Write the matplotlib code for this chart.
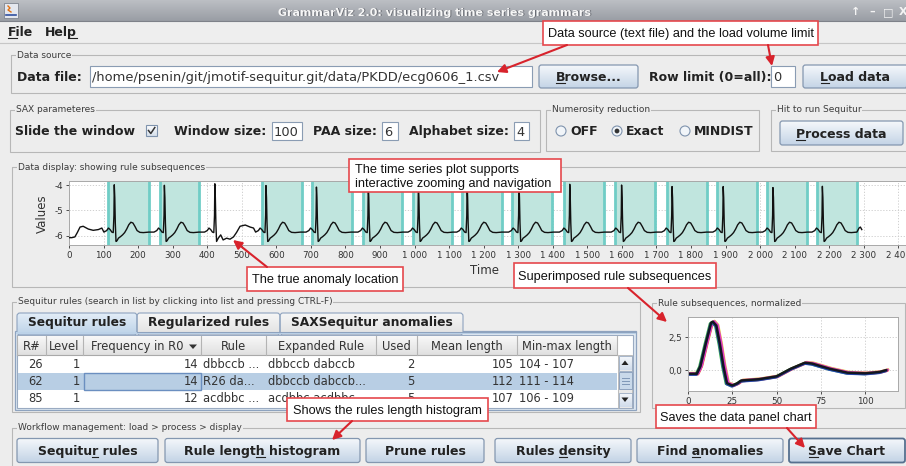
#!/usr/bin/env python3
"""
Redraws the GrammarViz 2.0 main window screenshot with matplotlib.
GUI widgets are drawn in pixel coordinates, the two charts are real axes.
"""

import numpy as np
import matplotlib
matplotlib.use('Agg')
import matplotlib.pyplot as plt
from matplotlib.patches import Rectangle, FancyBboxPatch, Circle, Polygon
from matplotlib.colors import LinearSegmentedColormap
from matplotlib.font_manager import FontProperties

plt.rcParams['axes.unicode_minus'] = False

W, H = 906, 466
BG = '#ededed'
RED = '#d8232c'

# ---- ECG series (ecg0606_1.csv) ----
lead_t = [0, 8, 17, 24, 32, 41, 56, 70, 85, 95]
lead_v = [-6.08, -6.08, -6.05, -5.88, -5.66, -5.63, -5.74, -5.79, -5.76, -5.70]
beat_peaks = [131, 276, 422, 570, 716, 866, 1011, 1152, 1302, 1449, 1599, 1745, 1893, 2037, 2180]
peak_values = [-3.99, -4.01, -3.95, -4.02, -4.08, -4.02, -3.98, -3.96, -3.95, -3.97,
               -4.00, -4.06, -4.06, -4.10, -4.05]
beat_offsets = [-30, -22, -17, -12, -7, -3, -1, 0, 1.5, 3, 5, 8, 12, 18, 24, 30, 36,
                42, 48, 54, 60, 66, 74, 84, 100]
beat_values = [-5.86, -5.80, -5.70, -5.76, -5.86, -5.88, -5.20, -4.00, -4.50, -5.50,
               -6.23, -6.20, -6.10, -6.04, -5.97, -5.88, -5.74, -5.57, -5.47, -5.50,
               -5.64, -5.80, -5.87, -5.88, -5.86]
anomaly_beat = 2
anomaly_offsets = [5, 10, 17, 24, 34, 44, 54, 63, 73, 88, 102, 112]
anomaly_values = [-6.23, -6.10, -5.97, -6.17, -6.10, -6.14, -6.05, -5.87, -5.63, -5.58, -5.66, -5.70]
tail_t = [2286, 2290, 2294]
tail_v = [-5.70, -5.66, -5.76]

# rule subsequences highlighted in the data display
rule_starts = [114, 263, 559, 704, 850, 994, 1136, 1282, 1433, 1579, 1729, 1876, 2020, 2165]
rule_ends = [231, 377, 673, 818, 964, 1109, 1253, 1399, 1548, 1695, 1846, 1991, 2136, 2280]

time_ticks = [0, 100, 200, 300, 400, 500, 600, 700, 800, 900, 1000, 1100, 1200,
              1300, 1400, 1500, 1600, 1700, 1800, 1900, 2000, 2100, 2200, 2300, 2400]
time_tick_labels = ['0', '100', '200', '300', '400', '500', '600', '700', '800', '900',
                    '1 000', '1 100', '1 200', '1 300', '1 400', '1 500', '1 600', '1 700',
                    '1 800', '1 900', '2 000', '2 100', '2 200', '2 300', '2 400']
value_ticks = [-6, -5, -4]
value_tick_labels = ['-6', '-5', '-4']

# superimposed normalized rule subsequences
norm_x = [0, 5, 7, 10, 13, 14, 16, 18, 20, 22, 25, 28, 30, 40, 50, 58, 66, 70, 80, 90, 100, 108, 112]
norm_v = [-0.28, -0.28, 0.3, 2.0, 3.6, 3.7, 3.4, 2.0, 0.3, -1.0, -1.18, -1.0, -0.8, -0.7,
          -0.48, 0.1, 0.56, 0.5, 0.1, -0.2, -0.25, -0.15, 0.0]
norm_shift = [1.0, 0.6, 0.8, -0.6, -0.2, 0.0]
norm_lift = [0.05, -0.04, 0.03, -0.05, -0.07, 0.0]
norm_colors = ['#e8d820', '#e02828', '#e03ad6', '#22a030', '#2040c0', '#111111']
norm_ticks_x = [0, 25, 50, 75, 100]
norm_ticks_y = [0.0, 2.5]
norm_tick_labels_y = ['0,0', '2,5']

# Sequitur rules table
table_columns = ['R#', 'Level', 'Frequency in R0', 'Rule', 'Expanded Rule', 'Used',
                 'Mean length', 'Min-max length']
col_rnum = ['26', '62', '85']
col_level = ['1', '1', '1']
col_freq = ['14', '14', '12']
col_rule = ['dbbccb ...', 'R26 da...', 'acdbbc ...']
col_expanded = ['dbbccb dabccb', 'dbbccb dabccb...', 'acdbbc acdbbc...']
col_used = ['2', '5', '5']
col_mean = ['105', '112', '107']
col_minmax = ['104 - 107', '111 - 114', '106 - 109']
selected_row = 1

tab_labels = ['Sequitur rules', 'Regularized rules', 'SAXSequitur anomalies']
radio_labels = ['OFF', 'Exact', 'MINDIST']
radio_selected = 1
workflow_buttons = ['Sequitur rules', 'Rule length histogram', 'Prune rules',
                    'Rules density', 'Find anomalies', 'Save Chart']
workflow_mnemonics = [7, 10, None, 6, 5, 0]

fig = plt.figure(figsize=(W / 100, H / 100), dpi=100)
fig.patch.set_facecolor(BG)
gui = fig.add_axes([0, 0, 1, 1])
gui.set_xlim(0, W)
gui.set_ylim(H, 0)
gui.axis('off')
renderer = fig.canvas.get_renderer()


def px_rect(x0, y0, x1, y1):
    return [x0 / W, 1 - y1 / H, (x1 - x0) / W, (y1 - y0) / H]


def gradient(ax, x0, y0, x1, y1, top, bottom, clip=None, z=1):
    cmap = LinearSegmentedColormap.from_list('g', [top, bottom])
    im = ax.imshow(np.linspace(0, 1, 64).reshape(-1, 1), cmap=cmap, aspect='auto',
                   extent=(x0, x1, y1, y0), interpolation='bilinear', zorder=z)
    if clip is not None:
        im.set_clip_path(clip)


def label(x, y, s, ha='left', size=9, bold=True, color='#222222', ul=None, z=5):
    weight = 'bold' if bold else 'normal'
    gui.text(x, y, s, ha=ha, va='baseline', fontsize=size, fontweight=weight,
             family='DejaVu Sans', color=color, zorder=z)
    if ul is None:
        return
    # underline the mnemonic letter
    fp = FontProperties(family='DejaVu Sans', weight=weight, size=size)
    full = renderer.get_text_width_height_descent(s, fp, ismath=False)[0]
    pre = renderer.get_text_width_height_descent(s[:ul], fp, ismath=False)[0] if ul else 0
    ch = renderer.get_text_width_height_descent(s[ul], fp, ismath=False)[0]
    left = x - full / 2 if ha == 'center' else x
    gui.plot([left + pre, left + pre + ch], [y + 2, y + 2], color=color, lw=0.8, zorder=z)


def button(x0, y0, x1, y1, s, ul=None, edge='#8497b0', lw=0.9):
    box = FancyBboxPatch((x0, y0), x1 - x0, y1 - y0, boxstyle='round,pad=0,rounding_size=2.5',
                         fc='none', ec=edge, lw=lw, zorder=3)
    gui.add_patch(box)
    gradient(gui, x0, y0, x1, y1, '#f5f8fb', '#c4d4e6', clip=box, z=2)
    label((x0 + x1) / 2, (y0 + y1) / 2 + 4.5, s, ha='center', ul=ul)


def field(x0, y0, x1, y1, s):
    gui.add_patch(Rectangle((x0, y0), x1 - x0, y1 - y0, fc='white', ec='#8a9cb3', lw=0.8, zorder=2))
    label(x0 + 2, (y0 + y1) / 2 + 4.5, s, size=9.4, bold=False, color='#333333')


def panel(x0, y0, x1, y1, title):
    gui.add_patch(Rectangle((x0, y0), x1 - x0, y1 - y0, fill=False, ec='#b7b7b7', lw=0.8, zorder=1))
    gui.text(x0 + 6, y0, title, ha='left', va='center', fontsize=6.5, color='#3c3c3c',
             family='DejaVu Sans', bbox=dict(fc=BG, ec='none', pad=0.6), zorder=2)


# ---- title bar and menu ----
gradient(gui, 0, 0, W, 21, '#bcbfc4', '#999da4')
gui.plot([0, W], [21, 21], color='#7e8189', lw=0.8, zorder=2)
gui.add_patch(Rectangle((4, 3), 14, 15, fc='#e4e7ee', ec='#7f8590', lw=0.6, zorder=3))
gui.plot([8, 10, 8, 11], [6, 8, 10, 12], color='#e07010', lw=1.0, zorder=4)
gui.plot([6, 16], [15, 15], color='#3050a0', lw=1.2, zorder=4)
title = 'GrammarViz 2.0: visualizing time series grammars'
gui.text(435.8, 16.3, title, ha='center', va='baseline', fontsize=7.9, fontweight='bold',
         color='#6a6d74', zorder=3)
gui.text(435, 15.5, title, ha='center', va='baseline', fontsize=7.9, fontweight='bold',
         color='#f6f6f6', zorder=4)
for x, s in zip([856, 872, 888, 903], ['↑', '–', '□', 'X']):
    gui.text(x, 15, s, ha='center', va='baseline', fontsize=8, fontweight='bold',
             color='#f4f4f4', zorder=4)

gui.add_patch(Rectangle((0, 21.5), W, 20.5, fc='#eeeeee', ec='none', zorder=1))
gui.plot([0, W], [42.5, 42.5], color='#c6c6c6', lw=0.8, zorder=2)
label(8, 36, 'File', ul=0)
label(45, 36, 'Help', ul=3)

# ---- data source ----
panel(11, 55, 912, 93, 'Data source')
label(17, 81, 'Data file:')
field(90, 66, 532, 87, '/home/psenin/git/jmotif-sequitur.git/data/PKDD/ecg0606_1.csv')
button(539, 65, 638, 88, 'Browse...', ul=0)
label(649, 81, 'Row limit (0=all):')
field(771, 66, 795, 87, '0')
button(803, 65, 908, 88, 'Load data', ul=0)

# ---- SAX parameters ----
panel(10, 110, 540, 152, 'SAX parameteres')
label(15, 135, 'Slide the window')
cb = Rectangle((146, 125), 11, 11, fc='none', ec='#7f93ad', lw=0.8, zorder=3)
gui.add_patch(cb)
gradient(gui, 146, 125, 157, 136, '#ffffff', '#d5dfeb', clip=cb, z=2)
gui.plot([148.5, 150.8, 154.8], [130.5, 133.5, 127.5], color='#333333', lw=1.1, zorder=4)
label(174, 135, 'Window size:')
field(272, 122, 302, 140, '100')
label(313, 135, 'PAA size:')
field(382, 122, 398, 140, '6')
label(409, 135, 'Alphabet size:')
field(514, 122, 529, 140, '4')

# ---- numerosity reduction ----
panel(546, 110, 759, 151, 'Numerosity reduction')
for i, (cx, s) in enumerate(zip([561, 617, 685], radio_labels)):
    gui.add_patch(Circle((cx, 131), 5, fc='#f1f5f9', ec='#7f93ad', lw=0.8, zorder=3))
    if i == radio_selected:
        gui.add_patch(Circle((cx, 131), 2.4, fc='#333333', ec='none', zorder=4))
    label(cx + 9, 135, s)

panel(771, 110, 912, 151, 'Hit to run Sequitur')
button(780, 121, 903, 145, 'Process data', ul=0)

# ---- data display ----
panel(12, 167, 912, 287, 'Data display: showing rule subsequences')
gui.text(42, 214, 'Values', rotation=90, ha='center', va='center', fontsize=8.5, color='#333333')
gui.text(485, 271, 'Time', ha='center', va='center', fontsize=8.5, color='#333333')

ecg_t, ecg_v = list(lead_t), list(lead_v)
for i, (p, pv) in enumerate(zip(beat_peaks, peak_values)):
    for off, v in zip(beat_offsets, beat_values):
        if i == anomaly_beat and off > 3:
            break
        ecg_t.append(p + off)
        ecg_v.append(pv if off == 0 else v)
    if i == anomaly_beat:
        ecg_t += [p + off for off in anomaly_offsets]
        ecg_v += anomaly_values
ecg_t += tail_t
ecg_v += tail_v

ax = fig.add_axes(px_rect(69, 181, 906, 245))
ax.set_axisbelow(True)
for s, e in zip(rule_starts, rule_ends):
    ax.axvspan(s, e, fc='#c0e5de', ec='none', zorder=1)
    ax.axvline(s, color='#70cdc6', lw=2, zorder=2)
    ax.axvline(e, color='#70cdc6', lw=2, zorder=2)
ax.plot(ecg_t, ecg_v, color='#111111', lw=1.0, zorder=3)
ax.set_xlim(0, 2422)
ax.set_ylim(-6.37, -3.84)
ax.set_xticks(time_ticks)
ax.set_xticklabels(time_tick_labels)
ax.set_yticks(value_ticks)
ax.set_yticklabels(value_tick_labels)
ax.grid(True, color='#c9c9c9', lw=0.6, ls=(0, (1.5, 2)))
ax.tick_params(labelsize=6.3, length=2, pad=2, colors='#333333', width=0.6)
for sp in ax.spines.values():
    sp.set_color('#a8a8a8')
    sp.set_linewidth(0.7)

# ---- Sequitur rules table ----
panel(12, 302, 640, 412, 'Sequitur rules (search in list by clicking into list and pressing CTRL-F)')
gui.add_patch(Rectangle((15, 331), 621, 79, fc='#dfe8f2', ec='#8ea3bf', lw=0.9, zorder=2))
tab_edges = [17, 137, 280, 463]
for i, s in enumerate(tab_labels):
    x0, x1 = tab_edges[i], tab_edges[i + 1]
    tab = FancyBboxPatch((x0, 313), x1 - x0, 22, boxstyle='round,pad=0,rounding_size=3',
                         fc='none', ec='#8ea3bf', lw=0.8, zorder=3)
    gui.add_patch(tab)
    if i == 0:
        gradient(gui, x0, 313, x1, 335, '#e3edf7', '#bcd2e8', clip=tab, z=2)
    else:
        gradient(gui, x0, 313, x1, 335, '#f6f6f6', '#e2e2e2', clip=tab, z=2)
    label((x0 + x1) / 2, 326, s, ha='center', size=8.8)
gui.add_patch(Rectangle((15.5, 332), 620, 2, fc='#bcd2e8', ec='none', zorder=4))
gui.plot([137, 636], [332, 332], color='#8ea3bf', lw=0.8, zorder=4)
gui.add_patch(Rectangle((17, 335), 616, 73, fc='white', ec='#9aabc2', lw=0.8, zorder=4))

col_edges = [17, 46, 83, 201, 266, 376, 417, 517, 617]
col_align = ['right', 'right', 'right', 'left', 'left', 'right', 'right', 'left']
rows = list(zip(col_rnum, col_level, col_freq, col_rule, col_expanded, col_used, col_mean, col_minmax))

gradient(gui, 17, 336, 617, 355, '#f8f8f8', '#e0e0e0', z=5)
gui.plot([17, 617], [355, 355], color='#a9a9a9', lw=0.8, zorder=6)
for x in col_edges:
    gui.plot([x, x], [336, 355], color='#b4b4b4', lw=0.8, zorder=6)
for i, s in enumerate(table_columns):
    cx = (col_edges[i] + col_edges[i + 1]) / 2
    if i == 2:
        cx = 137
    label(cx, 350, s, ha='center', size=8.3, bold=False, color='#333333', z=7)
gui.add_patch(Polygon([(189, 344.5), (197, 344.5), (193, 349)], fc='#333333', ec='none', zorder=7))

row_top = [355, 372.5, 390]
gui.add_patch(Rectangle((17.5, row_top[selected_row]), 599.5, 17.5, fc='#b8cee4', ec='none', zorder=5))
gui.add_patch(Rectangle((84, row_top[selected_row] + 0.5), 116.5, 16.5, fill=False, ec='#6b8fc0',
                        lw=1, zorder=6))
for r, row in enumerate(rows):
    for i, s in enumerate(row):
        if col_align[i] == 'right':
            label(col_edges[i + 1] - 3, row_top[r] + 12.5, s, ha='right', size=8.3, bold=False,
                  color='#333333', z=7)
        else:
            label(col_edges[i] + 2, row_top[r] + 12.5, s, size=8.3, bold=False, color='#333333', z=7)

# scrollbar
gui.add_patch(Rectangle((618, 355), 14, 53, fc='#e9e9e9', ec='#b3b3b3', lw=0.6, zorder=5))
for y0 in [355.5, 392.5]:
    sb = Rectangle((618.5, y0), 13, 15, fc='none', ec='#9aabc2', lw=0.6, zorder=6)
    gui.add_patch(sb)
    gradient(gui, 618.5, y0, 631.5, y0 + 15, '#f7f9fc', '#d0dceb', clip=sb, z=5.5)
gui.add_patch(Polygon([(621.5, 365), (628.5, 365), (625, 360.5)], fc='#222222', ec='none', zorder=7))
gui.add_patch(Polygon([(621.5, 397.5), (628.5, 397.5), (625, 402)], fc='#222222', ec='none', zorder=7))
gui.add_patch(Rectangle((618.5, 372), 13, 17, fc='#c9d9ea', ec='#8ea3bf', lw=0.7, zorder=6))
for y in [377.5, 380.5, 383.5]:
    gui.plot([621.5, 628.5], [y, y], color='#7f97b7', lw=0.7, zorder=7)

# ---- rule subsequences chart ----
panel(652, 303, 905, 408, 'Rule subsequences, normalized')
ax2 = fig.add_axes(px_rect(688, 317, 898, 391))
for shift, lift, c in zip(norm_shift, norm_lift, norm_colors):
    ax2.plot([x + shift for x in norm_x], [v + lift for v in norm_v], color=c, lw=1.8,
             solid_capstyle='round', alpha=0.9)
ax2.set_xlim(0, 118.5)
ax2.set_ylim(-1.6, 4.05)
ax2.set_xticks(norm_ticks_x)
ax2.set_yticks(norm_ticks_y)
ax2.set_yticklabels(norm_tick_labels_y)
ax2.set_axisbelow(True)
ax2.grid(True, color='#c9c9c9', lw=0.6, ls=(0, (1.5, 2)))
ax2.tick_params(labelsize=6.3, length=2, pad=2, colors='#333333', width=0.6)
for sp in ax2.spines.values():
    sp.set_color('#a8a8a8')
    sp.set_linewidth(0.7)

# ---- workflow buttons ----
panel(12, 428, 912, 472, 'Workflow management: load > process > display')
button_x = [(17, 158), (165, 360), (366, 484), (495, 631), (637, 783), (789, 905)]
for (x0, x1), s, ul in zip(button_x, workflow_buttons, workflow_mnemonics):
    focused = s == 'Save Chart'
    button(x0, 438.5, x1, 462.5, s, ul=ul, edge='#56708f' if focused else '#8497b0',
           lw=1.3 if focused else 0.9)

gui.set_xlim(0, W)
gui.set_ylim(H, 0)

# ---- red callouts on top of everything ----
over = fig.add_axes([0, 0, 1, 1])
over.set_xlim(0, W)
over.set_ylim(H, 0)
over.axis('off')


def callout(x0, y0, x1, y1, lines, ha='center'):
    over.add_patch(Rectangle((x0, y0), x1 - x0, y1 - y0, fc='white', ec='#e5484d', lw=1.2))
    n = len(lines)
    for k, s in enumerate(lines):
        y = (y0 + y1) / 2 + 4.5 + (k - (n - 1) / 2) * 15
        x = (x0 + x1) / 2 if ha == 'center' else x0 + 6
        over.text(x, y, s, ha=ha, va='baseline', fontsize=9.2, family='Liberation Sans', color='#111111')


def arrow(start, tip):
    over.annotate('', xy=tip, xytext=start,
                  arrowprops=dict(arrowstyle='-|>', color=RED, lw=1.5, mutation_scale=13,
                                  shrinkA=0, shrinkB=0))


arrow((567, 45), (497, 72))
arrow((768, 45), (772, 66))
callout(543, 21, 818, 45, ['Data source (text file) and the load volume limit'])
callout(349, 159, 561, 192, ['The time series plot supports', 'interactive zooming and navigation'], ha='left')
arrow((267, 267), (233, 240))
callout(247, 267, 403, 291, ['The true anomaly location'])
arrow((628, 288), (667, 322))
callout(514, 263, 716, 288, ['Superimposed rule subsequences'])
arrow((352, 421), (332, 440))
callout(287, 398, 488, 421, ['Shows the rules length histogram'])
arrow((787, 428), (805, 448))
callout(656, 405, 816, 428, ['Saves the data panel chart'])

fig.savefig('out.png', dpi=100, facecolor=BG)
